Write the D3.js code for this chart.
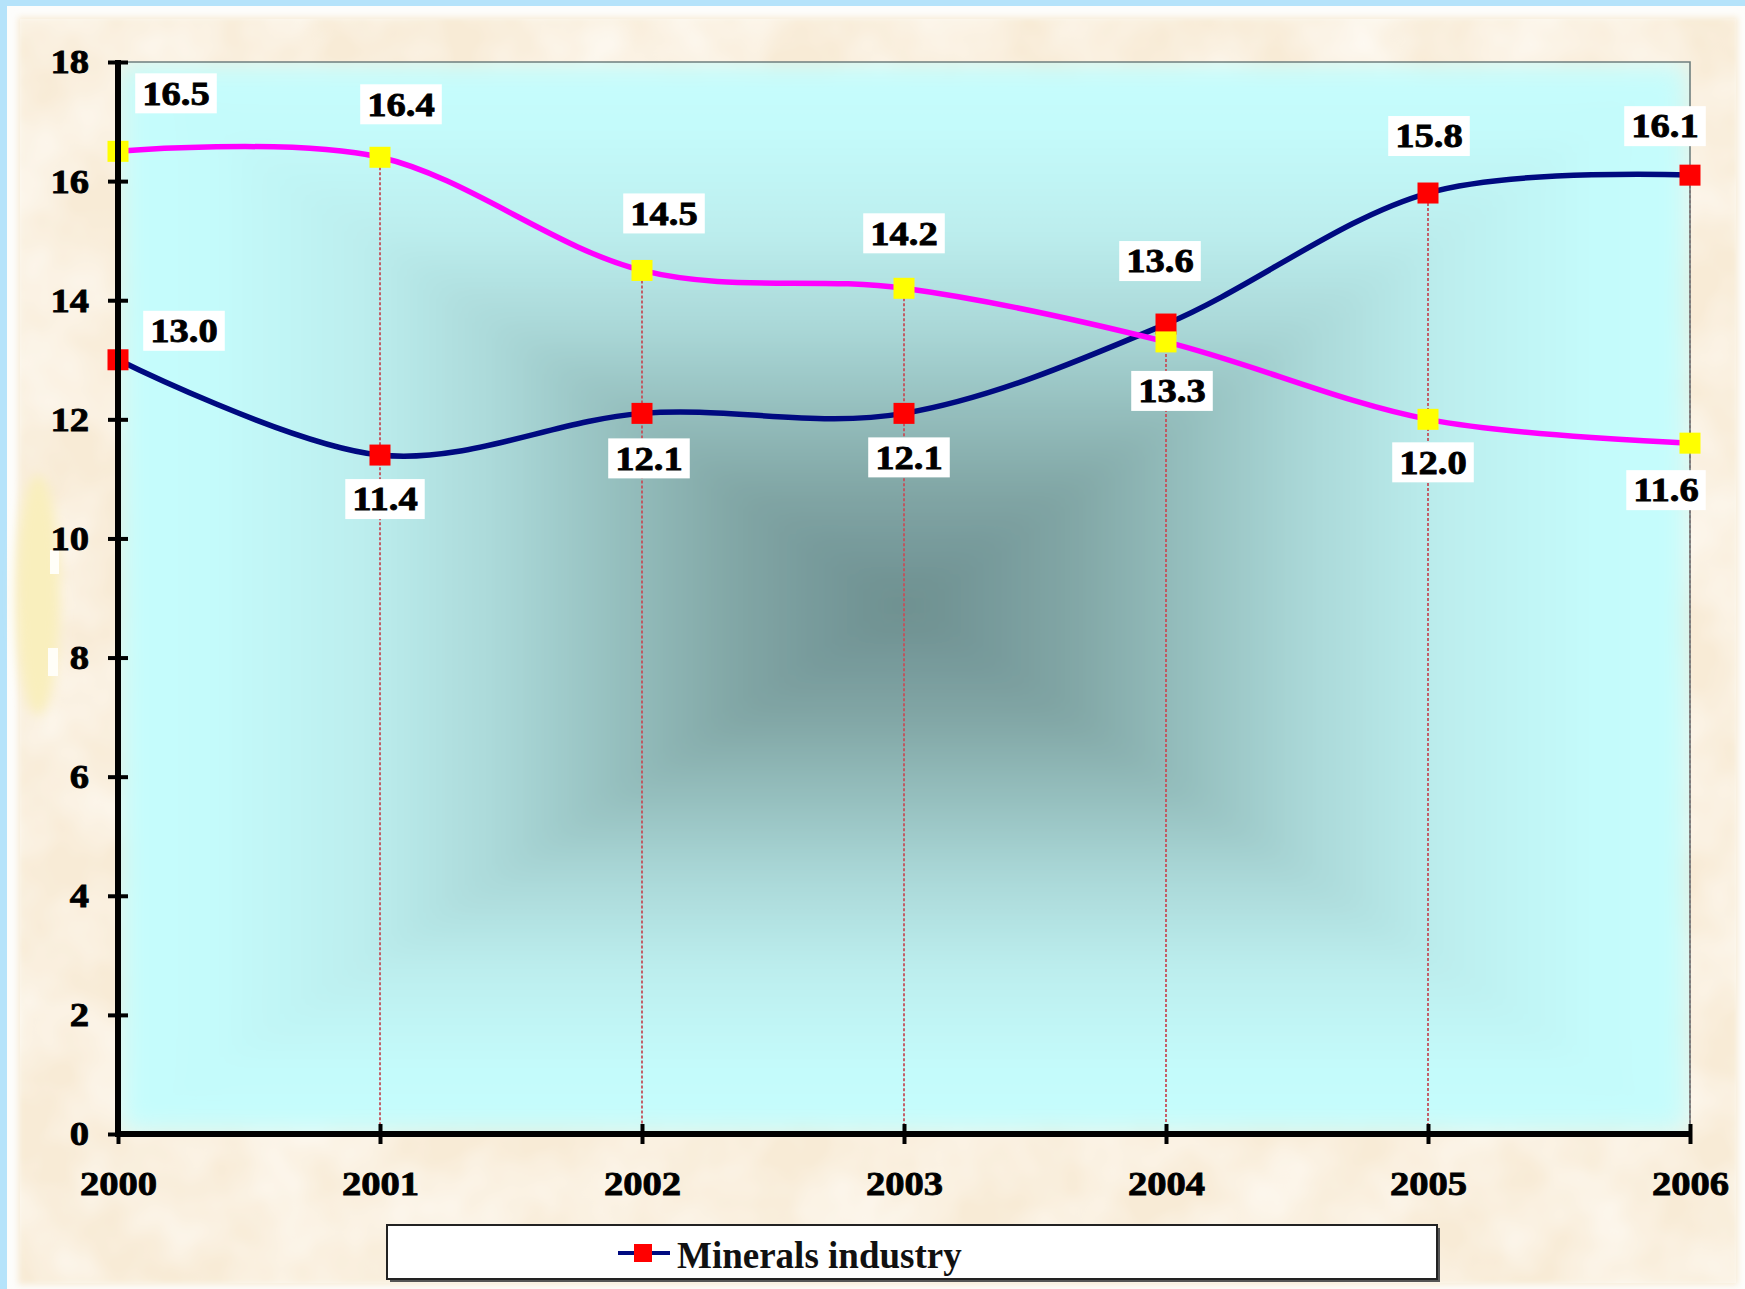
<!DOCTYPE html>
<html>
<head>
<meta charset="utf-8">
<script src="https://cdn.jsdelivr.net/npm/d3@7"></script>
<style>
  html, body { margin: 0; padding: 0; background: #b5e3fa; }
  svg { display: block; }
</style>
</head>
<body>
<svg id="chart" width="1745" height="1289"></svg>
<script>
// ---- data ----
const years = ["2000", "2001", "2002", "2003", "2004", "2005", "2006"];
const minerals = [13.0, 11.4, 12.1, 12.1, 13.6, 15.8, 16.1];
const secondSeries = [16.5, 16.4, 14.5, 14.2, 13.3, 12.0, 11.6];
const yTicks = [0, 2, 4, 6, 8, 10, 12, 14, 16, 18];
const legendLabel = "Minerals industry";

// label placement (offset of each value box from its marker)
const mineralsLabelOffset = [[66, -29], [5, 44], [7, 45], [5, 44], [-6, -63], [1, -57], [-25, -49]];
const secondLabelOffset = [[58, -58], [21, -53], [22, -57], [0, -55], [6, 49], [5, 43], [-24, 47]];

// ---- layout ----
const W = 1745, H = 1289;
const plot = { left: 118, right: 1690, top: 62, bottom: 1134 };
const FONT = "'Liberation Serif', 'Times New Roman', serif";
const STRETCH = 1.17;

const svg = d3.select("#chart");
const defs = svg.append("defs");

const x = d3.scalePoint().domain(years).range([plot.left, plot.right]);
const y = d3.scaleLinear().domain([0, 18]).range([plot.bottom, plot.top]);

// ---- page background: blue frame, white rim, parchment ----
svg.append("rect").attr("width", W).attr("height", H).attr("fill", "#b5e3fa");
svg.append("rect").attr("x", 7).attr("y", 6).attr("width", W - 7).attr("height", H - 6).attr("fill", "#fdfdfb");

const soft = defs.append("filter").attr("id", "soft").attr("x", "-5%").attr("y", "-5%").attr("width", "110%").attr("height", "110%");
soft.append("feGaussianBlur").attr("stdDeviation", 3);

const paper = defs.append("filter").attr("id", "paper").attr("x", 0).attr("y", 0).attr("width", "100%").attr("height", "100%");
paper.append("feTurbulence").attr("type", "fractalNoise").attr("baseFrequency", "0.012").attr("numOctaves", 3).attr("seed", 7);
paper.append("feColorMatrix").attr("type", "matrix")
  .attr("values", "0 0 0 0 1  0 0 0 0 0.985  0 0 0 0 0.955  1.2 0 0 0 -0.35");

svg.append("rect").attr("x", 18).attr("y", 17).attr("width", 1720).attr("height", 1268)
  .attr("fill", "#f8ebd6").attr("filter", "url(#soft)");
svg.append("rect").attr("x", 20).attr("y", 19).attr("width", 1716).attr("height", 1264)
  .attr("fill", "#fff").attr("filter", "url(#paper)");

// pale smudge at the left margin
const smudge = defs.append("filter").attr("id", "smudge").attr("x", "-50%").attr("y", "-50%").attr("width", "200%").attr("height", "200%");
smudge.append("feGaussianBlur").attr("stdDeviation", 6);
svg.append("ellipse").attr("cx", 38).attr("cy", 595).attr("rx", 22).attr("ry", 120)
  .attr("fill", "#f9efbd").attr("filter", "url(#smudge)");
svg.append("rect").attr("x", 50).attr("y", 550).attr("width", 9).attr("height", 24).attr("fill", "#fffef8");
svg.append("rect").attr("x", 48).attr("y", 648).attr("width", 10).attr("height", 28).attr("fill", "#fffef8");

// ---- plot area: rectangular "from centre" gradient built from four triangles ----
const cx = (plot.left + plot.right) / 2, cy = (plot.top + plot.bottom) / 2 + 8;
const stops = [
  [0, "#c6fdfd"], [0.12, "#c4fbfb"], [0.3, "#bdefef"], [0.48, "#abd9d9"],
  [0.63, "#96c0bf"], [0.78, "#82a7a6"], [0.9, "#76999a"], [1, "#6e908f"]
];
function grad(id, x1, y1, x2, y2) {
  const g = defs.append("linearGradient").attr("id", id)
    .attr("gradientUnits", "userSpaceOnUse")
    .attr("x1", x1).attr("y1", y1).attr("x2", x2).attr("y2", y2);
  stops.forEach(s => g.append("stop").attr("offset", s[0]).attr("stop-color", s[1]));
}
grad("gTop", cx, plot.top, cx, cy);
grad("gBottom", cx, plot.bottom, cx, cy);
grad("gLeft", plot.left, cy, cx, cy);
grad("gRight", plot.right, cy, cx, cy);

const bgBlur = defs.append("filter").attr("id", "bgBlur").attr("x", 0).attr("y", 0).attr("width", "100%").attr("height", "100%");
bgBlur.append("feGaussianBlur").attr("stdDeviation", 14).attr("edgeMode", "duplicate");
defs.append("clipPath").attr("id", "plotClip").append("rect")
  .attr("x", plot.left).attr("y", plot.top).attr("width", plot.right - plot.left).attr("height", plot.bottom - plot.top);

const bg = svg.append("g").attr("clip-path", "url(#plotClip)").append("g").attr("filter", "url(#bgBlur)");
const tri = (pts, fill) => bg.append("polygon").attr("points", pts.map(p => p.join(",")).join(" "))
  .attr("fill", fill).attr("stroke", fill).attr("stroke-width", 0.6);
tri([[plot.left, plot.top], [plot.right, plot.top], [cx, cy]], "url(#gTop)");
tri([[plot.left, plot.bottom], [plot.right, plot.bottom], [cx, cy]], "url(#gBottom)");
tri([[plot.left, plot.top], [plot.left, plot.bottom], [cx, cy]], "url(#gLeft)");
tri([[plot.right, plot.top], [plot.right, plot.bottom], [cx, cy]], "url(#gRight)");

// ---- drop lines ----
svg.append("g").selectAll("line").data(years).join("line")
  .attr("x1", d => x(d)).attr("x2", d => x(d))
  .attr("y1", (d, i) => y(Math.max(minerals[i], secondSeries[i])))
  .attr("y2", plot.bottom)
  .attr("stroke", "#c4505a").attr("stroke-width", 1.8).attr("stroke-dasharray", "3,2");

// plot frame (top and right)
svg.append("path")
  .attr("d", `M${plot.left},${plot.top}H${plot.right}V${plot.bottom}`)
  .attr("fill", "none").attr("stroke", "#6f7f7f").attr("stroke-width", 1.6);

// ---- series ----
const line = d3.line().x((d, i) => x(years[i])).y(d => y(d)).curve(d3.curveCardinal.tension(0));

function drawSeries(values, lineColor, markerColor) {
  svg.append("path").datum(values).attr("d", line)
    .attr("fill", "none").attr("stroke", lineColor).attr("stroke-width", 5.5)
    .attr("stroke-linejoin", "round").attr("stroke-linecap", "round");
  const s = 21;
  svg.append("g").selectAll("rect").data(values).join("rect")
    .attr("x", (d, i) => x(years[i]) - s / 2).attr("y", d => y(d) - s / 2)
    .attr("width", s).attr("height", s).attr("fill", markerColor);
}
drawSeries(minerals, "#000a80", "#ff0000");
drawSeries(secondSeries, "#ff00ff", "#ffff00");

// ---- axes ----
const gY = svg.append("g").attr("transform", `translate(${plot.left},0)`)
  .call(d3.axisLeft(y).tickValues(yTicks).tickSize(10).tickPadding(0).tickFormat(d3.format("d")));
gY.select(".domain").attr("stroke", "#000").attr("stroke-width", 6)
  .attr("d", `M0,${plot.top - 2}V${plot.bottom + 3}`);
gY.selectAll(".tick line").attr("x1", -10).attr("x2", 10).attr("stroke", "#000").attr("stroke-width", 4);
gY.selectAll(".tick text")
  .attr("x", -29 / STRETCH).attr("dy", "0.33em")
  .attr("transform", `scale(${STRETCH},1)`)
  .attr("text-anchor", "end")
  .style("font-family", FONT).style("font-weight", "bold").style("font-size", "33px")
  .attr("fill", "#000").attr("stroke", "#000").attr("stroke-width", 0.8);

const gX = svg.append("g").attr("transform", `translate(0,${plot.bottom})`)
  .call(d3.axisBottom(x).tickSize(10).tickPadding(0));
gX.select(".domain").attr("stroke", "#000").attr("stroke-width", 6)
  .attr("d", `M${plot.left - 3},0H${plot.right + 2}`);
gX.selectAll(".tick line").attr("y1", -10).attr("y2", 10).attr("stroke", "#000").attr("stroke-width", 4);
gX.selectAll(".tick text")
  .attr("y", 38).attr("dy", "0.71em").attr("x", 0)
  .attr("transform", `scale(${STRETCH},1)`)
  .style("font-family", FONT).style("font-weight", "bold").style("font-size", "33px")
  .attr("fill", "#000").attr("stroke", "#000").attr("stroke-width", 0.8);

// ---- value labels ----
function drawLabels(values, offsets) {
  const g = svg.append("g");
  values.forEach((v, i) => {
    const lx = x(years[i]) + offsets[i][0];
    const ly = y(v) + offsets[i][1];
    const grp = g.append("g").attr("transform", `translate(${lx},${ly})`);
    const box = grp.append("rect").attr("fill", "#fff");
    const t = grp.append("text")
      .attr("transform", `scale(${STRETCH},1)`)
      .attr("text-anchor", "middle").attr("dy", "0.34em")
      .style("font-family", FONT).style("font-weight", "bold").style("font-size", "33px")
      .attr("fill", "#000").attr("stroke", "#000").attr("stroke-width", 0.8)
      .text(d3.format(".1f")(v));
    const w = t.node().getComputedTextLength() * STRETCH + 14;
    const h = 40;
    box.attr("x", -w / 2).attr("y", -h / 2).attr("width", w).attr("height", h);
  });
}
drawLabels(minerals, mineralsLabelOffset);
drawLabels(secondSeries, secondLabelOffset);

// ---- legend ----
const lg = svg.append("g");
lg.append("rect").attr("x", 390).attr("y", 1228).attr("width", 1050).attr("height", 54).attr("fill", "#555");
lg.append("rect").attr("x", 387).attr("y", 1225).attr("width", 1050).attr("height", 54)
  .attr("fill", "#fff").attr("stroke", "#222").attr("stroke-width", 2);
lg.append("line").attr("x1", 618).attr("x2", 670).attr("y1", 1253).attr("y2", 1253)
  .attr("stroke", "#000a80").attr("stroke-width", 4);
lg.append("rect").attr("x", 634).attr("y", 1244).attr("width", 18).attr("height", 18).attr("fill", "#ff0000");
lg.append("text").attr("x", 677).attr("y", 1268)
  .style("font-family", FONT).style("font-weight", "bold").style("font-size", "37px")
  .attr("fill", "#111").text(legendLabel);
</script>
</body>
</html>
